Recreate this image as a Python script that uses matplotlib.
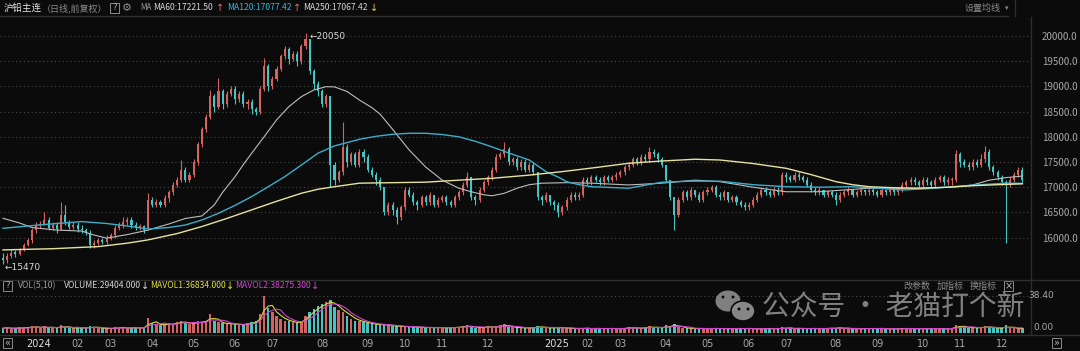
import matplotlib
matplotlib.use('Agg')
import matplotlib.pyplot as plt
import numpy as np
import pandas as pd
from matplotlib.patches import Ellipse, Rectangle

plt.rcParams['font.family'] = ['Noto Sans CJK SC', 'DejaVu Sans']

# ---- data (one bar ~ two trading days) ----
closes = [15550,15640,15700,15680,15760,15850,15950,16150,16250,16280,
          16350,16200,16250,16180,16450,16300,16220,16250,16180,16150,
          16100,15850,15900,15950,15920,15980,16050,16200,16250,16300,
          16350,16250,16200,16230,16160,16750,16650,16700,16650,16780,
          16900,17050,17150,17350,17150,17250,17500,17850,18150,18400,
          18800,18600,18900,18650,18850,18950,18750,18850,18650,18700,
          18550,18500,18950,19400,19000,19150,19350,19600,19750,19550,
          19650,19500,19800,19950,19300,19050,18900,18650,18800,17450,
          17150,17300,17800,17500,17650,17450,17700,17600,17350,17250,
          17150,17000,16500,16650,16550,16400,16600,16950,16850,16700,
          16650,16800,16700,16850,16650,16750,16800,16700,16650,16800,
          16900,17050,17200,16800,16750,16950,17100,17200,17350,17600,
          17650,17750,17500,17550,17400,17500,17350,17450,17300,16800,
          16750,16850,16700,16650,16500,16600,16750,16850,16800,16850,
          17150,17100,17200,17150,17100,17200,17150,17200,17250,17300,
          17400,17450,17550,17500,17600,17550,17700,17650,17550,17450,
          17150,16800,16450,16750,16900,16800,16950,16850,16750,16900,
          16950,17000,16850,16800,16900,16750,16800,16700,16650,16600,
          16650,16750,16850,16950,16900,16850,16950,16900,17250,17200,
          17150,17250,17200,17150,17050,16950,16900,16950,16850,16900,
          16850,16750,16850,16900,16950,16850,16900,16950,16900,16950,
          16900,16850,16950,16900,16950,16900,16950,17050,17100,17150,
          17100,17050,17150,17100,17050,17150,17200,17100,17150,17150,
          17650,17500,17450,17400,17500,17450,17550,17700,17400,17300,
          17200,17100,17050,17150,17250,17350,17150]

opens = [15600,15550,15640,15720,15680,15760,15850,15950,16150,16250,
         16280,16350,16200,16250,16180,16450,16300,16220,16250,16180,
         16150,16100,15850,15900,15950,15920,15980,16050,16200,16250,
         16300,16350,16250,16200,16230,16200,16750,16650,16700,16650,
         16780,16900,17050,17150,17350,17150,17250,17500,17850,18150,
         18400,18800,18600,18900,18650,18850,18950,18750,18850,18650,
         18700,18550,18500,18950,19400,19000,19150,19350,19600,19750,
         19550,19650,19500,19800,19950,19300,19050,18900,18650,18800,
         17450,17150,17300,17800,17500,17650,17450,17700,17600,17350,
         17250,17150,17000,16500,16650,16550,16400,16600,16950,16850,
         16700,16650,16800,16700,16850,16650,16750,16800,16700,16650,
         16800,16900,17050,17200,16800,16750,16950,17100,17200,17350,
         17600,17650,17750,17500,17550,17400,17500,17350,17450,17300,
         16800,16750,16850,16700,16650,16500,16600,16750,16850,16800,
         16850,17150,17100,17200,17150,17100,17200,17150,17200,17250,
         17300,17400,17450,17550,17500,17600,17550,17700,17650,17550,
         17450,17150,16800,16450,16750,16900,16800,16950,16850,16750,
         16900,16950,17000,16850,16800,16900,16750,16800,16700,16650,
         16600,16650,16750,16850,16950,16900,16850,16950,16900,17250,
         17200,17150,17250,17200,17150,17050,16950,16900,16950,16850,
         16900,16850,16750,16850,16900,16950,16850,16900,16950,16900,
         16950,16900,16850,16950,16900,16950,16900,16950,17050,17100,
         17150,17100,17050,17150,17100,17050,17150,17200,17100,17150,
         17150,17650,17500,17450,17400,17500,17450,17550,17700,17400,
         17300,17200,17100,17050,17150,17250,17350]

highs = [15700,15700,15780,15760,15800,15900,16000,16200,16300,16330,
         16516,16400,16300,16300,16715,16650,16350,16300,16300,16250,
         16200,16150,15950,16000,16000,16050,16100,16250,16300,16400,
         16400,16400,16300,16280,16260,16880,16800,16760,16750,16850,
         16950,17100,17200,17540,17400,17300,17550,17900,18200,18450,
         18930,18850,19160,18950,18900,19000,19000,18900,18900,18750,
         18750,18600,19000,19557,19450,19200,19400,19650,19800,19790,
         19700,19700,19850,20050,19950,19350,19100,18950,18850,18800,
         17500,17350,18300,17850,17700,17700,17750,17750,17650,17400,
         17300,17200,17000,16700,16700,16600,16650,17000,17000,16900,
         16750,16850,16850,16900,16850,16800,16850,16850,16750,16850,
         16950,17100,17310,17200,16850,17000,17150,17250,17400,17650,
         17700,17900,17800,17600,17600,17550,17550,17500,17500,17300,
         16850,16900,16850,16750,16700,16650,16800,16900,16900,16900,
         17200,17200,17250,17250,17200,17250,17250,17250,17300,17350,
         17450,17500,17600,17600,17650,17650,17800,17750,17700,17600,
         17450,17150,16800,16800,16950,16950,17000,16950,16900,16950,
         17000,17050,17050,16900,16950,16900,16850,16850,16750,16700,
         16700,16800,16900,17000,17000,16950,17000,17000,17300,17300,
         17250,17300,17300,17250,17200,17100,17000,17000,16950,16950,
         16950,16900,16900,16950,17000,16950,16950,17000,16950,17000,
         17000,16950,17000,16950,17000,16950,17000,17100,17150,17200,
         17200,17150,17200,17200,17150,17200,17250,17250,17200,17200,
         17740,17700,17550,17500,17550,17550,17650,17820,17750,17450,
         17350,17250,17150,17200,17300,17400,17400]

lows = [15470,15500,15600,15620,15650,15740,15830,15900,16100,16200,
        16250,16150,16150,16100,16150,16250,16180,16180,16120,16100,
        16050,15800,15800,15850,15880,15880,15950,16000,16150,16200,
        16250,16200,16150,16150,16100,16150,16600,16600,16600,16600,
        16700,16850,17000,17100,17100,17100,17200,17450,17800,18100,
        18350,18500,18550,18550,18600,18800,18650,18700,18600,18550,
        18450,18430,18450,18900,18900,18950,19100,19300,19550,19450,
        19500,19400,19450,19750,19250,18950,18800,18600,18600,17010,
        17050,17100,17250,17400,17450,17400,17400,17500,17300,17200,
        17050,16950,16450,16450,16450,16280,16350,16550,16800,16650,
        16550,16600,16650,16650,16600,16600,16700,16650,16600,16600,
        16750,16850,17000,16750,16650,16700,16900,17050,17150,17300,
        17550,17600,17450,17450,17350,17350,17300,17300,17250,16750,
        16650,16700,16650,16550,16400,16450,16550,16700,16750,16750,
        16800,17050,17050,17100,17050,17050,17100,17100,17150,17200,
        17250,17350,17400,17450,17450,17500,17500,17600,17500,17400,
        17100,16750,16150,16400,16700,16750,16750,16800,16700,16700,
        16850,16900,16800,16750,16750,16700,16700,16650,16600,16550,
        16550,16600,16700,16800,16850,16800,16800,16850,16850,17100,
        17100,17100,17150,17100,17000,16900,16850,16850,16800,16800,
        16800,16650,16700,16800,16850,16800,16800,16850,16850,16850,
        16850,16800,16800,16850,16850,16850,16850,16900,17000,17050,
        17050,17000,17000,17050,17000,17000,17100,17050,17050,17050,
        17100,17400,17400,17350,17350,17400,17400,17500,17350,17250,
        17150,17050,15890,17000,17100,17200,17100]

volumes = [5,6,4,5,6,5,6,7,6,5,
           7,5,6,5,8,6,5,5,6,5,
           5,7,6,5,5,4,5,6,5,6,
           5,5,6,5,5,16,10,9,8,9,
           10,9,11,13,10,9,11,12,11,13,
           20,12,11,10,9,10,9,8,9,10,
           11,12,20,38,26,22,18,15,13,12,
           11,10,13,18,22,25,28,30,32,34,
           27,24,22,18,15,13,12,11,10,9,
           9,8,9,8,7,7,7,6,7,6,
           6,6,5,6,6,5,6,5,6,6,
           6,7,8,6,5,6,6,7,6,6,
           8,9,6,6,5,6,5,5,6,7,
           6,5,5,6,6,5,5,5,4,5,
           5,5,4,5,5,4,5,5,4,5,
           5,6,5,5,5,6,7,5,6,5,
           8,7,9,6,5,5,5,4,5,5,
           4,5,5,4,5,4,5,5,4,5,
           5,4,4,5,5,4,5,4,6,5,
           5,4,5,5,4,5,5,4,5,5,
           5,5,6,4,5,4,5,4,5,5,
           4,5,5,4,4,5,4,5,5,4,
           5,4,5,4,5,5,4,4,5,5,
           8,7,6,5,6,5,6,7,6,5,
           5,5,8,5,5,4,5]

# moving averages (bar index, value)
ma60_idx = [0,4,7,13,19,22,25,30,35,40,44,48,51,53,56,58,60,63,66,69,72,75,78,80,83,86,
            89,91,94,98,102,106,110,113,116,118,121,124,127,130,136,142,151,159,167,173,
            181,189,197,209,221,229,234,238,242,246]
ma60_val = [16384,16290,16200,16150,16130,16050,15990,16060,16150,16270,16380,16430,16650,16900,
            17210,17450,17673,18000,18334,18600,18797,18929,18995,18990,18900,18730,
            18580,18450,18150,17740,17400,17140,16980,16910,16850,16830,16880,16980,17050,17080,
            17090,17080,17045,17080,17140,17110,17000,16910,16910,16980,16980,17000,17045,17140,
            17190,17221]
ma120_idx = [0,10,19,25,31,35,40,44,48,52,56,60,64,68,72,76,80,86,90,94,98,102,106,110,114,
             118,122,127,131,134,136,139,142,151,159,166,173,181,189,197,205,211,217,223,229,
             236,242,246]
ma120_val = [16185,16260,16318,16280,16220,16170,16200,16250,16350,16483,16640,16814,17010,17210,
             17440,17675,17820,17950,18010,18050,18070,18070,18045,18000,17910,17800,17680,17540,
             17310,17200,17110,17050,17010,16980,17100,17120,17120,17050,17010,17000,17010,16980,
             16945,16970,17010,17050,17080,17077]
ma250_idx = [0,12,23,30,35,42,48,54,60,66,72,76,80,86,94,102,110,118,127,135,143,151,159,167,173,
             181,189,195,201,205,209,215,221,228,234,240,246]
ma250_val = [15756,15780,15822,15890,15955,16080,16220,16380,16550,16720,16880,16960,17010,17080,
             17090,17100,17140,17177,17240,17310,17390,17475,17520,17555,17540,17470,17375,17250,
             17110,17050,17010,16990,16980,17000,17030,17050,17067]

month_labels = ['2024','02','03','04','05','06','07','08','09','10','11','12',
                '2025','02','03','04','05','06','07','08','09','10','11','12']
month_start = [6,17,25,35,45,55,64,76,87,96,105,116,131,140,148,159,169,179,188,200,210,221,230,240]

price_ticks = [16000,16500,17000,17500,18000,18500,19000,19500,20000]

for name, arr in [('opens', opens), ('highs', highs), ('lows', lows), ('volumes', volumes)]:
    if len(arr) != len(closes):
        raise SystemExit('%s has %d, closes has %d' % (name, len(arr), len(closes)))

# ---- styling ----
W, H = 1080, 351
BG = '#0b0b0b'
UP = '#d4625f'
DN = '#46c4c4'
GRID = '#4a4a4a'
FRAME = '#2e2e2e'
TXT = '#a8a8a8'

o = np.array(opens, float)
c = np.array(closes, float)
hi = np.array(highs, float)
lo = np.array(lows, float)
v = np.array(volumes, float)
idx = np.arange(len(c))
cols = np.where(c >= o, UP, DN)

fig = plt.figure(figsize=(10.8, 3.51), dpi=100, facecolor=BG)

def rect(x0, y0, x1, y1):
    return [x0 / W, 1 - y1 / H, (x1 - x0) / W, (y1 - y0) / H]

x_lo = -3 / 4.14
x_hi = 1027 / 4.14

# price panel
ax = fig.add_axes(rect(0, 17, 1031, 279))
ax.set_facecolor(BG)
ax.set_xlim(x_lo, x_hi)
ax.set_ylim(15179, 20377)
ax.hlines(price_ticks, x_lo, x_hi, colors=GRID, lw=0.8, linestyles=(0, (1, 2.5)), zorder=0)
ax.vlines(idx, lo, hi, colors=cols, lw=0.8, zorder=2)
body = np.maximum(np.abs(c - o), 12)
ax.bar(idx, body, bottom=np.minimum(o, c), width=0.5, color=cols, lw=0, zorder=3)
ax.plot(ma60_idx, ma60_val, color='#bdbdbd', lw=0.8, zorder=4)
ax.plot(ma120_idx, ma120_val, color='#3aaecb', lw=1.0, zorder=4)
ax.plot(ma250_idx, ma250_val, color='#e6e2a0', lw=1.0, zorder=4)
ax.yaxis.tick_right()
ax.set_yticks(price_ticks)
ax.set_yticklabels(['%.1f' % t for t in price_ticks])
ax.tick_params(axis='y', length=0, pad=8, labelsize=7, labelcolor=TXT)
ax.set_xticks([])
for s in ax.spines.values():
    s.set_visible(False)

# peak / trough labels
imax = int(np.argmax(hi))
imin = int(np.argmin(lo[:20]))
ax.annotate('\u2190%d' % hi[imax], (imax + 0.3, hi[imax]), xytext=(2, -2), textcoords='offset points',
            color='#d8d8d8', fontsize=6.5, va='center', ha='left', family='DejaVu Sans')
ax.annotate('\u2190%d' % lo[imin], (imin, lo[imin]), xytext=(1, -2), textcoords='offset points',
            color='#d8d8d8', fontsize=6.5, va='center', ha='left', family='DejaVu Sans')

# volume panel
axv = fig.add_axes(rect(0, 283, 1031, 334))
axv.set_facecolor(BG)
axv.set_xlim(x_lo, x_hi)
axv.set_ylim(-1.0, 51.9)
axv.hlines([38.4], x_lo, x_hi, colors=GRID, lw=0.8, linestyles=(0, (1, 2.5)), zorder=0)
axv.bar(idx, v, width=0.6, color=cols, lw=0, zorder=2)
vs = pd.Series(v)
axv.plot(idx, vs.rolling(3, min_periods=1).mean(), color='#d8d83c', lw=0.8, zorder=3)
axv.plot(idx, vs.rolling(5, min_periods=1).mean(), color='#cc44cc', lw=0.8, zorder=3)
axv.set_xticks([])
axv.set_yticks([])
for s in axv.spines.values():
    s.set_visible(False)

# x labels under the volume panel
axx = fig.add_axes(rect(0, 336, 1031, 351))
axx.set_xlim(x_lo, x_hi)
axx.set_ylim(0, 1)
axx.axis('off')
for lab, m in zip(month_labels, month_start):
    axx.text(m - 0.5, 0.45, lab, ha='left', va='center', fontsize=7,
             color='#e0e0e0' if len(lab) == 4 else TXT, family='DejaVu Sans')

# overlay in pixel coordinates for frame, header texts and watermark
ov = fig.add_axes([0, 0, 1, 1])
ov.set_xlim(0, W)
ov.set_ylim(H, 0)
ov.axis('off')

for y in (16, 280, 335):
    ov.plot([0, W if y != 16 else 1008], [y, y], color=FRAME, lw=1)
ov.plot([1031, 1031], [17, 335], color=FRAME, lw=1)
ov.plot([1015, 1015], [0, 16], color=FRAME, lw=1)

def boxed(x0, y0, s, size=6):
    ov.add_patch(Rectangle((x0, y0), 9, 10, fill=False, ec='#8a8a8a', lw=0.7))
    ov.text(x0 + 4.5, y0 + 5, s, ha='center', va='center', fontsize=size, color='#b0b0b0', family='DejaVu Sans')

# header
hy = 8
ov.text(4, hy, '沪铅主连', fontsize=6.8, color='#e6e6e6', va='center')
ov.text(42, hy, '（日线,前复权）', fontsize=6.5, color='#8c8c8c', va='center')
boxed(110, 3, '?')
ov.text(127, hy, '\u2699', fontsize=8, color='#8c8c8c', va='center', ha='center', family='DejaVu Sans')
ov.text(140, hy, 'MA', fontsize=5.8, color='#9a9a9a', va='center')
ov.text(153, hy, 'MA60:17221.50', fontsize=6.2, color='#d6d6d6', va='center')
ov.text(216, hy, '\u2191', fontsize=7, color='#e06a6a', va='center', family='DejaVu Sans')
ov.text(227, hy, 'MA120:17077.42', fontsize=6.2, color='#34b4de', va='center')
ov.text(293, hy, '\u2191', fontsize=7, color='#e06a6a', va='center', family='DejaVu Sans')
ov.text(303, hy, 'MA250:17067.42', fontsize=6.2, color='#d6d6d6', va='center')
ov.text(370, hy, '\u2193', fontsize=7, color='#e0d040', va='center', family='DejaVu Sans')
ov.text(965, hy, '设置均线', fontsize=6.5, color='#8c8c8c', va='center')
ov.text(1005, hy, '\u25be', fontsize=5, color='#8c8c8c', va='center', family='DejaVu Sans')

# volume header
vy = 286
boxed(3, 281, '?')
ov.text(18, vy, 'VOL(5,10)', fontsize=6.2, color='#9a9a9a', va='center')
ov.text(64, vy, 'VOLUME:29404.000', fontsize=6.2, color='#d6d6d6', va='center')
ov.text(141, vy, '\u2193', fontsize=7, color='#d6d6d6', va='center', family='DejaVu Sans')
ov.text(150, vy, 'MAVOL1:36834.000', fontsize=6.2, color='#dede3c', va='center')
ov.text(226, vy, '\u2193', fontsize=7, color='#dede3c', va='center', family='DejaVu Sans')
ov.text(235, vy, 'MAVOL2:38275.300', fontsize=6.2, color='#d444d4', va='center')
ov.text(311, vy, '\u2193', fontsize=7, color='#d444d4', va='center', family='DejaVu Sans')
ov.text(903, vy, '改参数', fontsize=6.5, color='#8c8c8c', va='center')
ov.text(937, vy, '加指标', fontsize=6.5, color='#8c8c8c', va='center')
ov.text(970, vy, '换指标', fontsize=6.5, color='#8c8c8c', va='center')
boxed(1004, 281, '\u00d7', size=7)
ov.text(1054, 296, '38.40', fontsize=6.5, color=TXT, va='center', ha='right', family='DejaVu Sans')
ov.text(1054, 327, '0.00', fontsize=6.5, color=TXT, va='center', ha='right', family='DejaVu Sans')

# nav buttons
boxed(3, 338, '\u00ab', size=7)
boxed(1052, 338, '\u00bb', size=7)

# watermark
ov.add_patch(Ellipse((728, 301), 25, 21, color='#8e8e8e', alpha=0.9, lw=0))
ov.add_patch(Ellipse((743, 311), 24, 20, color='#8e8e8e', alpha=0.95, lw=0))
ov.add_patch(Ellipse((743, 311), 24, 20, fill=False, ec=BG, lw=1.2))
for ex, ey in ((723, 297), (733, 297), (739, 309), (748, 309)):
    ov.add_patch(Ellipse((ex, ey), 3, 3, color=BG, lw=0))
ov.text(762, 308, '公众号 · 老猫打个新', fontsize=20, color='#8e8e8e', alpha=0.9, va='center', ha='left')

fig.savefig('out.png', dpi=100, facecolor=BG)
